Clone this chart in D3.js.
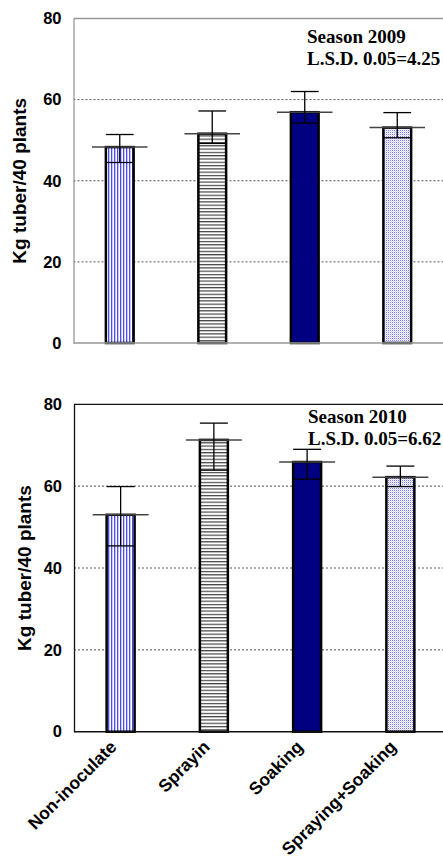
<!DOCTYPE html>
<html><head><meta charset="utf-8">
<script src="https://cdn.jsdelivr.net/npm/d3@7"></script>
<style>body{margin:0;background:#fff}svg{display:block}</style>
</head><body>
<script>
const categories = ["Non-inoculate","Sprayin","Soaking","Spraying+Soaking"];
const values2009 = [48.3, 51.6, 56.9, 53.1];
const upper2009  = [51.4, 57.2, 62.0, 56.8];
const lower2009  = [44.5, 49.2, 54.2, 50.6];
const values2010 = [53.0, 71.3, 65.9, 62.2];
const upper2010  = [59.9, 75.4, 69.0, 64.9];
const lower2010  = [45.4, 63.9, 61.7, 59.9];
const yTicks = [0, 20, 40, 60, 80];
const seasonLabels = ["Season 2009", "Season 2010"];
const lsdLabels = ["L.S.D. 0.05=4.25", "L.S.D. 0.05=6.62"];
const yTitle = "Kg tuber/40 plants";

const W = 443, H = 860;
const svg = d3.select("body").append("svg").attr("width", W).attr("height", H);

const defs = svg.append("defs");
const p1 = defs.append("pattern").attr("id","pv").attr("patternUnits","userSpaceOnUse").attr("width",3).attr("height",3);
p1.append("rect").attr("width",3).attr("height",3).attr("fill","#fff");
p1.append("rect").attr("x",0).attr("width",1.3).attr("height",3).attr("fill","#4a4aff");
const p2 = defs.append("pattern").attr("id","ph").attr("patternUnits","userSpaceOnUse").attr("width",3).attr("height",3.3);
p2.append("rect").attr("width",3).attr("height",3.3).attr("fill","#fff");
p2.append("rect").attr("y",0).attr("width",3).attr("height",1.2).attr("fill","#444");
const p4 = defs.append("pattern").attr("id","pd").attr("patternUnits","userSpaceOnUse").attr("width",2).attr("height",2);
p4.append("rect").attr("width",2).attr("height",2).attr("fill","#fff");
p4.append("rect").attr("x",0).attr("y",0).attr("width",1).attr("height",1).attr("fill","#7878ff");
p4.append("rect").attr("x",1).attr("y",1).attr("width",1).attr("height",1).attr("fill","#d4d4ff");

const fills = ["url(#pv)","url(#ph)","#000080","url(#pd)"];
const SANS = "Liberation Sans, Arial, sans-serif";

function drawPanel(cfg) {
  const {top, bottom, left, right, vals, up, lo, season, lsd, frame, titleX, textX, textY} = cfg;
  const g = svg.append("g");
  const y = d3.scaleLinear().domain([0, 80]).range([bottom, top]);
  const x = d3.scaleBand().domain(categories).range([left, right]).paddingInner(0.7).paddingOuter(0.35);

  g.selectAll("line.grid").data(yTicks.filter(t => t > 0 && t < 80)).enter().append("line")
    .attr("x1", left).attr("x2", W).attr("y1", d => y(d)).attr("y2", d => y(d))
    .attr("stroke", "#555").attr("stroke-width", 1).attr("stroke-dasharray", "2,2");
  g.append("line").attr("x1", left).attr("x2", W).attr("y1", y(80)).attr("y2", y(80))
    .attr("stroke", frame).attr("stroke-width", 1.3);

  const ya = g.append("g").attr("transform", `translate(${left},0)`)
    .call(d3.axisLeft(y).tickValues(yTicks).tickSize(0).tickPadding(12));
  ya.select(".domain").attr("stroke", frame).attr("stroke-width", 1.3);
  ya.selectAll("text").attr("font-family", SANS)
    .attr("font-weight", "bold").attr("font-size", 16.5).attr("fill", "#000");

  g.selectAll("rect.bar").data(categories).enter().append("rect")
    .attr("x", d => x(d)).attr("width", x.bandwidth())
    .attr("y", (d, i) => y(vals[i])).attr("height", (d, i) => y(0) - y(vals[i]))
    .attr("fill", (d, i) => fills[i]).attr("stroke", "#000").attr("stroke-width", 2.5);

  g.append("line").attr("x1", left).attr("x2", W).attr("y1", y(0)).attr("y2", y(0))
    .attr("stroke", frame).attr("stroke-width", 1.5);

  categories.forEach((c, i) => {
    const cx = x(c) + x.bandwidth() / 2, bw = x.bandwidth();
    g.append("line").attr("x1", cx - bw).attr("x2", cx + bw).attr("y1", y(vals[i])).attr("y2", y(vals[i]))
      .attr("stroke", "#444").attr("stroke-width", 1.5);
    g.append("line").attr("x1", cx).attr("x2", cx).attr("y1", y(up[i])).attr("y2", y(lo[i]))
      .attr("stroke", "#000").attr("stroke-width", 1.3);
    [up[i], lo[i]].forEach(v => {
      g.append("line").attr("x1", cx - bw / 2).attr("x2", cx + bw / 2).attr("y1", y(v)).attr("y2", y(v))
        .attr("stroke", "#000").attr("stroke-width", 1.3);
    });
  });

  const t = g.append("text").attr("font-family", "Liberation Serif, Times New Roman, serif")
    .attr("font-weight", "bold").attr("font-size", 19).attr("fill", "#000");
  t.append("tspan").attr("x", textX).attr("y", textY).text(season);
  t.append("tspan").attr("x", textX).attr("y", textY + 22).text(lsd);

  g.append("text").attr("transform", `translate(${titleX},${(top + bottom) / 2}) rotate(-90)`)
    .attr("text-anchor", "middle").attr("font-family", SANS)
    .attr("font-weight", "bold").attr("font-size", 19).text(yTitle);
  return {x, y};
}

drawPanel({top: 18.5, bottom: 343, left: 73.5, right: 443.5, vals: values2009, up: upper2009, lo: lower2009,
  season: seasonLabels[0], lsd: lsdLabels[0], frame: "#999", titleX: 26, textX: 307, textY: 42.5});
const p2res = drawPanel({top: 404.3, bottom: 731.7, left: 74, right: 447, vals: values2010, up: upper2010, lo: lower2010,
  season: seasonLabels[1], lsd: lsdLabels[1], frame: "#111", titleX: 31, textX: 308, textY: 423.3});

svg.append("g").selectAll("text").data(categories).enter().append("text")
  .attr("transform", d => `translate(${p2res.x(d) + p2res.x.bandwidth() / 2 - 3},${748}) rotate(-45)`)
  .attr("text-anchor", "end").attr("font-family", SANS)
  .attr("font-weight", "bold").attr("font-size", 17.5).text(d => d);
</script>
</body></html>
